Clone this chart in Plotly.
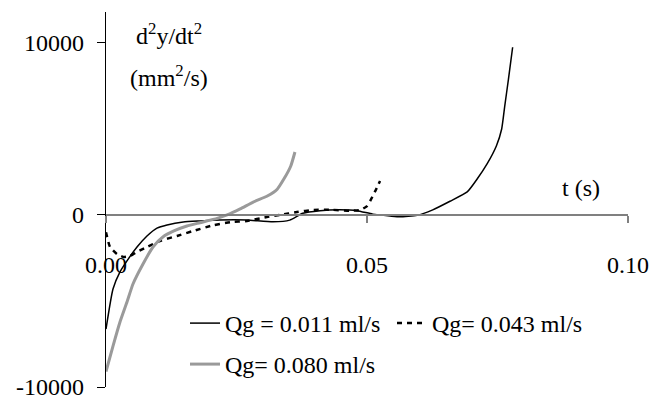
import plotly.graph_objects as go

# Qg = 0.011 ml/s (black solid)
t_011 = [0.0, 0.00134, 0.00268, 0.00402, 0.00594, 0.00785, 0.00977, 0.0117, 0.0148, 0.0180,
         0.0218, 0.0270, 0.0320, 0.0352, 0.0377, 0.0410, 0.0448, 0.0481, 0.0511, 0.0544,
         0.0563, 0.0596, 0.0626, 0.0659, 0.0692, 0.0711, 0.0730, 0.0748, 0.0758, 0.0764,
         0.0771, 0.0779]
v_011 = [-6630, -4300, -3310, -2670, -1860, -1220, -760, -580, -410, -350,
         -290, -290, -400, -300, 100, 250, 300, 250, 50, -60,
         -110, -20, 300, 800, 1340, 2090, 2970, 4030, 5000, 6360,
         7900, 9750]

# Qg = 0.043 ml/s (black dashed)
t_043 = [0.0, 0.00077, 0.0021, 0.0033, 0.0046, 0.0059, 0.0079, 0.0103, 0.0136, 0.0167,
         0.0205, 0.0238, 0.0270, 0.0308, 0.0333, 0.0366, 0.0397, 0.0433, 0.0467, 0.0488,
         0.0500, 0.0506, 0.0515, 0.0525]
v_043 = [-1000, -1860, -2270, -2440, -2380, -2150, -1860, -1510, -1220, -930,
         -600, -420, -350, -120, 0, 170, 290, 300, 250, 300,
         520, 810, 1340, 1980]

# Qg = 0.080 ml/s (grey)
t_080 = [0.0, 0.00134, 0.00268, 0.00402, 0.00517, 0.00709, 0.0090, 0.0109, 0.0130, 0.0155,
         0.0180, 0.0213, 0.0232, 0.0257, 0.0282, 0.0309, 0.0328, 0.0341, 0.0354, 0.0362]
v_080 = [-9100, -7620, -6220, -5060, -4010, -2850, -1860, -1280, -930, -640,
         -450, -200, 0, 350, 750, 1100, 1500, 2100, 2850, 3660]

x_ticks = [0.0, 0.05, 0.10]
x_ticktext = ["0.00", "0.05", "0.10"]
y_ticks = [-10000, 0, 10000]
y_ticktext = ["-10000", "0", "10000"]

FONT = "Liberation Serif, Times New Roman, serif"
SM = 0.5

fig = go.Figure()
fig.add_trace(go.Scatter(x=t_011, y=v_011, mode="lines", name="Qg = 0.011 ml/s", legend="legend",
                         line=dict(color="black", width=1.5, shape="spline", smoothing=SM)))
fig.add_trace(go.Scatter(x=t_043, y=v_043, mode="lines", name="Qg= 0.043 ml/s", legend="legend",
                         line=dict(color="black", width=2.5, dash="5px,5px", shape="spline", smoothing=SM)))
fig.add_trace(go.Scatter(x=t_080, y=v_080, mode="lines", name="Qg= 0.080 ml/s", legend="legend2",
                         line=dict(color="#9a9a9a", width=3, shape="spline", smoothing=SM)))

y_lo, y_hi = -10000, 11800
leg_common = dict(orientation="h", xanchor="left", yanchor="top",
                  entrywidth=162, entrywidthmode="pixels",
                  font=dict(family=FONT, size=24, color="black"),
                  bgcolor="rgba(0,0,0,0)", itemwidth=30, tracegroupgap=0)
fig.update_layout(
    width=656, height=401,
    margin=dict(l=106, r=28, t=12, b=14),
    paper_bgcolor="white", plot_bgcolor="white",
    font=dict(family=FONT, size=24, color="black"),
    showlegend=True,
    legend=dict(x=(185 - 106) / 522, y=(387 - 301) / 375, **leg_common),
    legend2=dict(x=(185 - 106) / 522, y=(387 - 342) / 375, **leg_common),
    xaxis=dict(range=[0, 0.1], anchor="free", position=(0 - y_lo) / (y_hi - y_lo),
               automargin=False,
               showgrid=False, zeroline=False, showline=True, linecolor="#808080", linewidth=1.5,
               ticks="outside", ticklen=7, tickcolor="#808080", tickwidth=1.5,
               tickvals=x_ticks, ticktext=x_ticktext, ticklabelstandoff=21,
               tickfont=dict(family=FONT, size=24, color="black")),
    yaxis=dict(range=[y_lo, y_hi], showgrid=False, zeroline=False, automargin=False,
               showline=True, linecolor="black", linewidth=1.2,
               ticks="outside", ticklen=8, tickcolor="black", tickwidth=1.2,
               tickvals=y_ticks, ticktext=y_ticktext, ticklabelstandoff=8,
               tickfont=dict(family=FONT, size=24, color="black")),
    annotations=[
        dict(text="d<sup>2</sup>y/dt<sup>2</sup>", xref="paper", yref="paper",
             x=(169 - 106) / 522, y=1 - (34 - 12) / 375, xanchor="center", yanchor="middle",
             showarrow=False, font=dict(family=FONT, size=24, color="black")),
        dict(text="(mm<sup>2</sup>/s)", xref="paper", yref="paper",
             x=(169 - 106) / 522, y=1 - (76 - 12) / 375, xanchor="center", yanchor="middle",
             showarrow=False, font=dict(family=FONT, size=24, color="black")),
        dict(text="t (s)", xref="paper", yref="paper",
             x=(581 - 106) / 522, y=1 - (188 - 12) / 375, xanchor="center", yanchor="middle",
             showarrow=False, font=dict(family=FONT, size=24, color="black")),
    ],
)

fig.write_html("out.html", config={"displayModeBar": False},
               post_script="document.body.style.margin='0';document.body.style.overflow='hidden';")
